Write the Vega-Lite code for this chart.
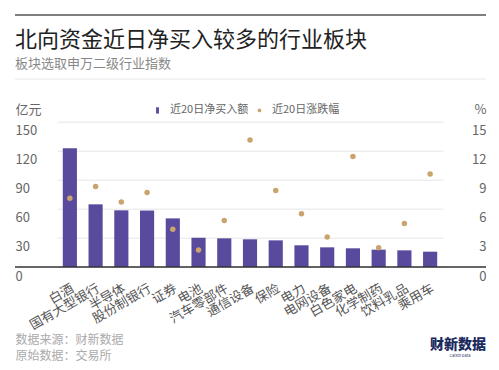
{
  "$schema": "https://vega.github.io/schema/vega-lite/v6.json",
  "width": 471,
  "height": 145.3,
  "autosize": "none",
  "padding": {"left": 15, "top": 121.7, "right": 13, "bottom": 103},
  "background": "white",
  "config": {"font": "Noto Sans CJK SC", "view": {"stroke": null}},
  "title": {
    "text": "北向资金近日净买入较多的行业板块",
    "subtitle": "板块选取申万二级行业指数",
    "anchor": "start",
    "frame": "group",
    "fontSize": 22,
    "fontWeight": "normal",
    "color": "#222222",
    "subtitleFontSize": 13,
    "subtitleColor": "#888888",
    "subtitlePadding": 6,
    "offset": -58
  },
  "data": {
    "values": [
      {"industry": "白酒", "net": 122.5, "chg": 7.1},
      {"industry": "国有大型银行", "net": 64.7, "chg": 8.3},
      {"industry": "半导体", "net": 58.5, "chg": 6.7},
      {"industry": "股份制银行", "net": 58.3, "chg": 7.7},
      {"industry": "证券", "net": 50.2, "chg": 3.9},
      {"industry": "电池", "net": 30.2, "chg": 1.75},
      {"industry": "汽车零部件", "net": 29.6, "chg": 4.8},
      {"industry": "通信设备", "net": 28.6, "chg": 13.1},
      {"industry": "保险", "net": 27.5, "chg": 7.9},
      {"industry": "电力", "net": 22.4, "chg": 5.5},
      {"industry": "电网设备", "net": 20.3, "chg": 3.1},
      {"industry": "白色家电", "net": 19.3, "chg": 11.4},
      {"industry": "化学制药", "net": 17.9, "chg": 2.0},
      {"industry": "饮料乳品", "net": 17.2, "chg": 4.5},
      {"industry": "乘用车", "net": 15.8, "chg": 9.6}
    ]
  },
  "layer": [
    {
      "mark": {"type": "bar", "color": "#5a4a9e"},
      "encoding": {
        "x": {
          "field": "industry", "type": "nominal", "sort": null,
          "scale": {"paddingInner": 0.45, "paddingOuter": 0.225, "range": [42, 428]},
          "axis": {
            "title": ["数据来源：财新数据", "原始数据：交易所"],
            "titleAnchor": "start", "titleAlign": "left", "titleX": 0, "titleY": 67,
            "titleBaseline": "top", "titleFontSize": 12, "titleColor": "#aaaaaa",
            "titleFontWeight": "normal", "titleLineHeight": 16,
            "labelAngle": -30, "labelAlign": "right", "labelBaseline": "middle",
            "labelFontSize": 13, "labelColor": "#555555", "labelPadding": 20, "labelOffset": 3,
            "tickSize": 0,
            "labelOverlap": false, "labelBound": false, "ticks": false,
            "domain": false, "grid": false
          }
        },
        "y": {
          "field": "net", "type": "quantitative",
          "scale": {"domain": [0, 150], "nice": false},
          "axis": {
            "title": "亿元", "titleAngle": 0, "titleX": 0, "titleY": -12,
            "titleAlign": "left", "titleBaseline": "middle", "titleFontSize": 13,
            "titleFontWeight": "normal", "titleColor": "#666666",
            "values": [0, 30, 60, 90, 120, 150],
            "labelAlign": "left", "labelBaseline": "top", "labelOffset": 3,
            "labelPadding": 0, "ticks": false, "tickSize": 0, "domain": false,
            "grid": true, "gridColor": "#e6e6e6", "labelFontSize": 13, "labelColor": "#666666"
          }
        },
        "color": {
          "datum": "近20日净买入额",
          "scale": {"domain": ["近20日净买入额", "近20日涨跌幅"], "range": ["#5a4a9e", "#c9a46f"]},
          "legend": {
            "orient": "none", "legendX": 137, "legendY": -17, "direction": "horizontal",
            "title": null, "labelFontSize": 11, "labelColor": "#666666",
            "columnPadding": 5, "symbolSize": 40, "symbolStrokeWidth": 0, "padding": 0,
            "labelOffset": 7,
            "encode": {
              "symbols": {
                "update": {
                  "shape": {"signal": "datum.value === '近20日净买入额' ? 'M-0.45,-1H0.45V1H-0.45Z' : 'circle'"},
                  "size": {"signal": "datum.value === '近20日净买入额' ? 40 : 14"}
                }
              }
            }
          }
        }
      }
    },
    {
      "mark": {"type": "point", "filled": true, "opacity": 1, "size": 30},
      "encoding": {
        "x": {"field": "industry", "type": "nominal", "sort": null},
        "y": {
          "field": "chg", "type": "quantitative",
          "scale": {"domain": [0, 15], "nice": false},
          "axis": {
            "orient": "right", "title": "%", "titleAngle": 0, "titleX": 0, "titleY": -12,
            "titleAlign": "right", "titleBaseline": "middle", "titleFontSize": 13,
            "titleFontWeight": "normal", "titleColor": "#666666",
            "values": [0, 3, 6, 9, 12, 15],
            "labelAlign": "right", "labelBaseline": "top", "labelOffset": 3,
            "labelPadding": 0, "ticks": false, "tickSize": 0, "domain": false,
            "grid": false, "labelFontSize": 13, "labelColor": "#666666"
          }
        },
        "color": {"datum": "近20日涨跌幅"}
      }
    },
    {
      "data": {"values": [{"base": 0}]},
      "mark": {"type": "rule", "stroke": "#333333", "strokeWidth": 1.5},
      "encoding": {"x": {"value": 0}, "x2": {"value": {"expr": "width"}}, "y": {"field": "base", "type": "quantitative", "scale": {"domain": [0, 150], "nice": false}, "axis": null}}
    },
    {
      "data": {"values": [{}]},
      "mark": {"type": "rule", "stroke": "#555555", "strokeWidth": 1.5},
      "encoding": {"x": {"value": 0}, "x2": {"value": {"expr": "width"}}, "y": {"value": -106.7}}
    },
    {
      "data": {"values": [{}]},
      "mark": {"type": "rule", "stroke": "#e8e8e8", "strokeWidth": 1},
      "encoding": {"x": {"value": 0}, "x2": {"value": {"expr": "width"}}, "y": {"value": -42.7}}
    },
    {
      "data": {"values": [{}]},
      "mark": {"type": "text", "text": "财新数据", "fontSize": 14, "fontWeight": 900, "fill": "#1c2b5e", "align": "right", "baseline": "middle"},
      "encoding": {"x": {"value": {"expr": "width"}}, "y": {"value": {"expr": "height + 78"}}}
    },
    {
      "data": {"values": [{}]},
      "mark": {"type": "text", "text": "Caixin Data", "fontSize": 4, "fill": "#1c2b5e", "align": "center", "baseline": "middle"},
      "encoding": {"x": {"value": {"expr": "width - 26"}}, "y": {"value": {"expr": "height + 89"}}}
    }
  ],
  "resolve": {"scale": {"y": "independent"}}
}
